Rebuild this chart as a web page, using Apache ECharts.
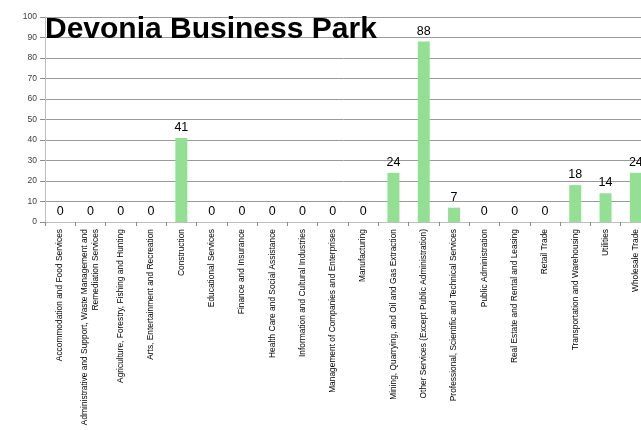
<!DOCTYPE html>
<html>
<head>
<meta charset="utf-8">
<script src="https://cdn.jsdelivr.net/npm/echarts@6/dist/echarts.min.js"></script>
<style>
  html, body { margin: 0; padding: 0; background: #ffffff; }
  #chart { width: 641px; height: 430px; }
</style>
</head>
<body>
<div id="chart"></div>
<script>
// Business counts by industry sector
const industries = [
  'Accommodation and Food Services',
  'Administrative and Support, Waste Management and\nRemediation Services',
  'Agriculture, Forestry, Fishing and Hunting',
  'Arts, Entertainment and Recreation',
  'Construction',
  'Educational Services',
  'Finance and Insurance',
  'Health Care and Social Assistance',
  'Information and Cultural Industries',
  'Management of Companies and Enterprises',
  'Manufacturing',
  'Mining, Quarrying, and Oil and Gas Extraction',
  'Other Services (Except Public Administration)',
  'Professional, Scientific and Technical Services',
  'Public Administration',
  'Real Estate and Rental and Leasing',
  'Retail Trade',
  'Transportation and Warehousing',
  'Utilities',
  'Wholesale Trade'
];
const businessCounts = [0, 0, 0, 0, 41, 0, 0, 0, 0, 0, 0, 24, 88, 7, 0, 0, 0, 18, 14, 24];
const yTicks = [0, 10, 20, 30, 40, 50, 60, 70, 80, 90, 100];

const chart = echarts.init(document.getElementById('chart'), null, { renderer: 'canvas' });
chart.setOption({
  animation: false,
  backgroundColor: '#ffffff',
  title: {
    text: 'Devonia Business Park',
    left: 45,
    top: 15,
    padding: 0,
    textStyle: {
      fontFamily: 'Liberation Sans',
      fontSize: 30,
      fontWeight: 'bold',
      color: '#000000'
    }
  },
  grid: {
    left: 45,
    top: 17,
    bottom: 208,
    right: -10,
    containLabel: false,
    outerBoundsMode: 'none'
  },
  xAxis: {
    type: 'category',
    data: industries,
    axisLine: { lineStyle: { color: '#bfbfbf', width: 1 } },
    axisTick: { show: true, length: 4, lineStyle: { color: '#8c8c8c' } },
    axisLabel: {
      interval: 0,
      rotate: 90,
      margin: 7,
      fontFamily: 'Liberation Sans',
      fontSize: 8.4,
      lineHeight: 11,
      color: '#000000'
    }
  },
  yAxis: {
    type: 'value',
    min: yTicks[0],
    max: yTicks[yTicks.length - 1],
    interval: yTicks[1] - yTicks[0],
    axisLine: { show: true, lineStyle: { color: '#bfbfbf', width: 1 } },
    axisTick: { show: true, length: 5, lineStyle: { color: '#8c8c8c' } },
    splitLine: { show: true, lineStyle: { color: '#9a9a9a', width: 1 } },
    axisLabel: {
      margin: 8,
      fontFamily: 'Liberation Sans',
      fontSize: 8.5,
      color: '#404040'
    }
  },
  series: [{
    type: 'bar',
    data: businessCounts,
    barWidth: 12,
    itemStyle: { color: '#93e095' },
    label: {
      show: true,
      position: 'top',
      distance: 4,
      fontFamily: 'Liberation Sans',
      fontSize: 12.5,
      color: '#000000'
    }
  }]
});
</script>
</body>
</html>
